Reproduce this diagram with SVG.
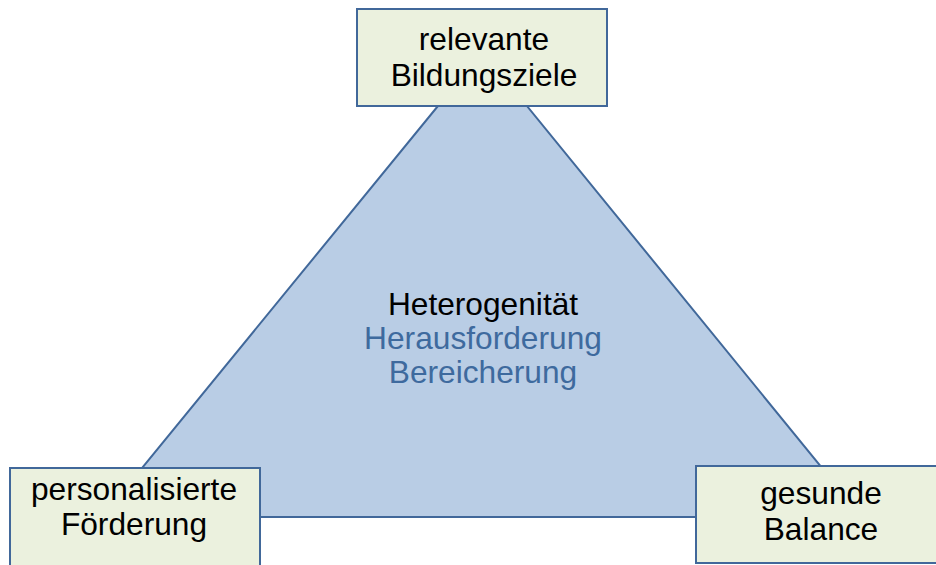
<svg xmlns="http://www.w3.org/2000/svg" width="936" height="565" viewBox="0 0 936 565">
<style>
.box{fill:#EBF1DE;stroke:#41689A;stroke-width:2}
.tri{fill:#B9CDE5;stroke:#41689A;stroke-width:2}
.t{font-family:"Liberation Sans",Arial,sans-serif;font-size:31.7px;text-anchor:middle;fill:#000}
.b{fill:#3E6A9E}
</style>
<rect width="936" height="565" fill="#FFFFFF"/>
<g id="connectors">
<polygon class="tri" points="482.5,51.5 102,517 862,517"/>
</g>
<g id="center">
<text class="t" x="483" y="315">Heterogenität</text>
<text class="t b" x="483" y="349">Herausforderung</text>
<text class="t b" x="483" y="383">Bereicherung</text>
</g>
<g id="top">
<rect class="box" x="357" y="9" width="250" height="97"/>
<text class="t" x="484" y="50">relevante</text>
<text class="t" x="484" y="86">Bildungsziele</text>
</g>
<g id="left">
<rect class="box" x="10" y="468" width="250" height="98"/>
<text class="t" x="134" y="500">personalisierte</text>
<text class="t" x="134" y="535">Förderung</text>
</g>
<g id="right">
<rect class="box" x="696" y="466" width="250" height="97"/>
<text class="t" x="821" y="504">gesunde</text>
<text class="t" x="821" y="540">Balance</text>
</g>
</svg>
